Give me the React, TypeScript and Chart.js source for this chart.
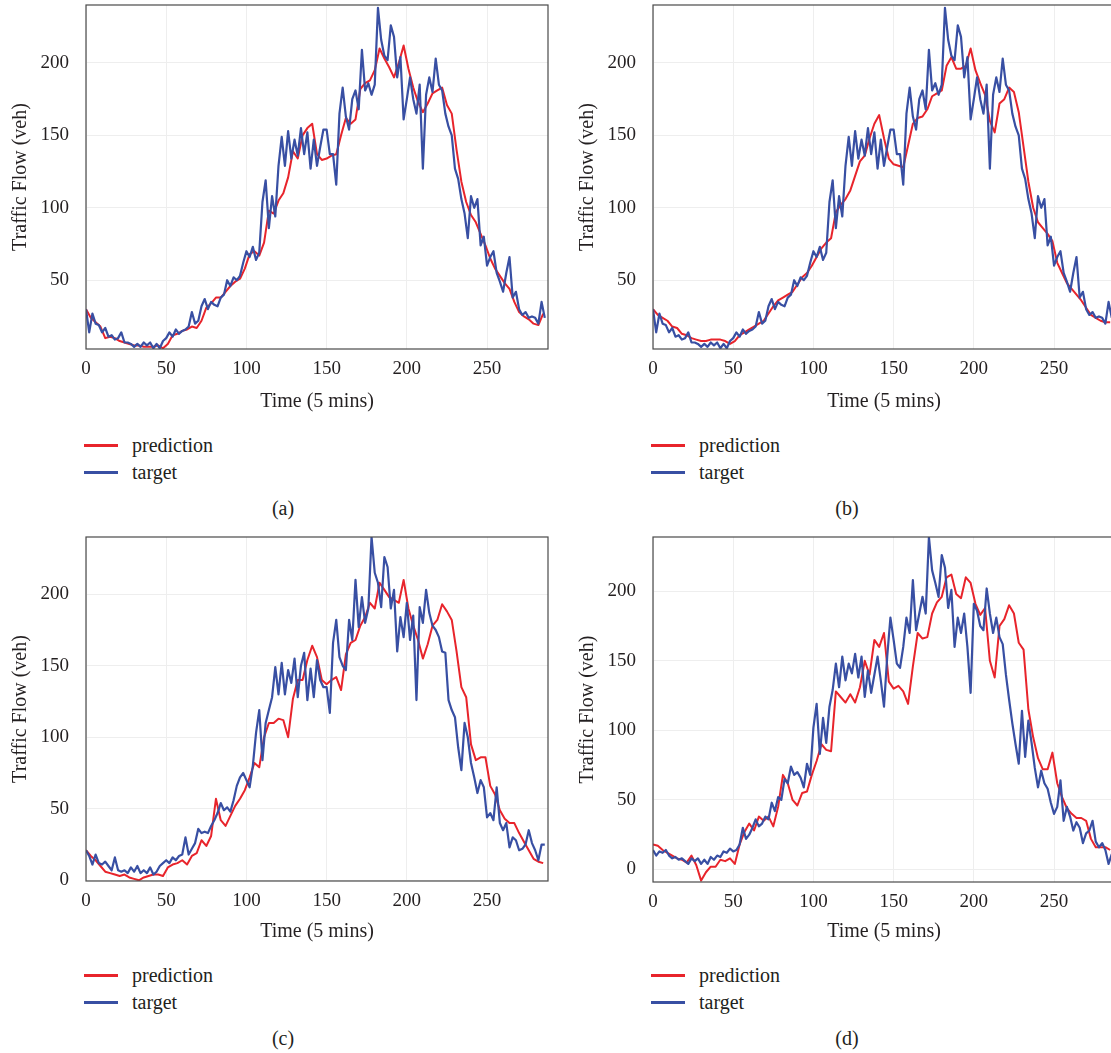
import React, { useEffect, useRef } from "react";
import { Chart, registerables } from "chart.js";

Chart.register(...registerables);

// ---------- data (time index in 5-minute steps) ----------
const TARGET_STEP = 2; // target sampled every 2 steps
const PRED_STEP = 3; // prediction sampled every 3 steps
const TIME_TICKS = [0, 50, 100, 150, 200, 250];
const FLOW_TICKS = [0, 50, 100, 150, 200];

// Target series of panels (a) and (b)
const TARGET_AB = [
  30, 14, 27, 20, 19, 14, 17, 11, 12, 9,
  10, 14, 7, 7, 6, 4, 6, 4, 7, 5,
  7, 3, 6, 3, 8, 10, 14, 11, 16, 13,
  15, 16, 18, 28, 20, 22, 32, 37, 30, 35,
  33, 32, 38, 40, 50, 46, 52, 50, 53, 62,
  70, 66, 73, 64, 69, 104, 119, 86, 108, 94,
  129, 149, 129, 153, 134, 147, 136, 155, 137, 152,
  127, 147, 129, 142, 154, 154, 137, 137, 116, 165,
  183, 163, 154, 175, 181, 168, 209, 181, 186, 178,
  185, 238, 216, 205, 202, 226, 218, 190, 204, 161,
  175, 190, 175, 165, 185, 127, 178, 190, 180, 203,
  185, 181, 165, 156, 150, 127, 120, 106, 96, 79,
  108, 100, 106, 74, 80, 60, 66, 70, 55, 49,
  42, 55, 66, 38, 42, 30, 26, 28, 24, 25,
  24, 20, 35, 24,
];

const PRED_A = [
  30, 24, 21, 18, 10, 11, 10, 8, 7, 6,
  5, 5, 4, 4, 4, 5, 3, 6, 12, 13,
  15, 16, 18, 17, 22, 31, 34, 38, 38, 42,
  46, 49, 51, 58, 68, 70, 67, 76, 98, 96,
  105, 110, 121, 139, 134, 150, 155, 158, 137, 133,
  134, 136, 137, 150, 162, 158, 161, 182, 186, 188,
  195, 210, 203, 197, 190, 200, 212, 196, 183, 173,
  166, 172, 179, 181, 183, 171, 165, 140, 118, 104,
  95, 90, 82, 74, 65, 58, 53, 48, 44, 35,
  28, 25, 23, 20, 19, 27,
];

const PRED_B = [
  30, 26, 24, 22, 18, 17, 13, 12, 10, 9,
  8, 8, 9, 9, 9, 8, 6, 8, 12, 14,
  16, 18, 20, 22, 27, 32, 36, 38, 40, 42,
  47, 52, 55, 60, 66, 72, 76, 79, 97, 102,
  106, 112, 122, 132, 136, 148, 158, 164, 148, 134,
  130, 129, 128, 143, 158, 162, 163, 168, 177, 179,
  181, 198, 204, 196, 196, 198, 210, 195, 186, 178,
  160, 152, 172, 175, 183, 180, 166, 142, 118, 100,
  90, 86, 82, 77, 62, 55, 48, 44, 40, 36,
  31, 26, 24, 22, 21, 21,
];

const TARGET_C = [
  21, 17, 11, 18, 12, 11, 13, 10, 7, 16,
  7, 6, 7, 5, 9, 6, 10, 5, 7, 5,
  9, 4, 6, 10, 12, 14, 12, 16, 14, 17,
  18, 30, 18, 22, 26, 36, 33, 34, 33, 38,
  42, 47, 54, 49, 51, 48, 56, 66, 72, 75,
  70, 65, 80, 103, 119, 84, 110, 119, 128, 149,
  130, 152, 130, 147, 138, 155, 128, 150, 159, 126,
  148, 128, 154, 140, 135, 135, 117, 166, 182, 156,
  150, 147, 182, 168, 210, 177, 198, 180, 190, 240,
  215, 208, 191, 226, 219, 190, 203, 160, 184, 170,
  194, 168, 185, 126, 191, 180, 203, 187, 178, 175,
  170, 160, 159, 126, 119, 114, 93, 77, 110, 100,
  82, 72, 61, 70, 65, 44, 47, 42, 65, 40,
  35, 40, 23, 30, 28, 21, 22, 25, 35, 26,
  21, 14, 25, 25,
];

const PRED_C = [
  21, 17, 14, 10, 6, 5, 4, 3, 4, 2,
  1, 0, 2, 3, 4, 4, 3, 9, 11, 12,
  14, 11, 17, 19, 28, 24, 31, 57, 42, 38,
  45, 52, 57, 63, 72, 82, 79, 100, 110, 110,
  113, 112, 100, 127, 140, 140, 154, 164, 156, 140,
  137, 140, 142, 133, 158, 166, 168, 178, 184, 194,
  190, 208, 203, 198, 196, 194, 210, 190, 178, 168,
  155, 165, 178, 182, 193, 188, 182, 160, 135, 128,
  95, 84, 86, 86, 66, 60, 49, 43, 40, 40,
  33, 27, 21, 15, 13, 12,
];

const TARGET_D = [
  14, 10, 13, 12, 14, 10, 8, 9, 7, 8,
  6, 4, 8, 6, 8, 4, 7, 4, 9, 7,
  10, 9, 13, 12, 15, 13, 14, 18, 30, 22,
  25, 30, 36, 31, 33, 38, 36, 48, 42, 52,
  50, 65, 62, 74, 68, 70, 66, 59, 76, 68,
  102, 119, 83, 109, 91, 117, 129, 148, 131, 153,
  136, 148, 141, 155, 138, 153, 124, 143, 127, 140,
  153, 136, 117, 153, 181, 165, 148, 145, 160, 181,
  170, 208, 172, 184, 196, 184, 239, 215, 206, 196,
  226, 217, 188, 201, 160, 181, 170, 184, 160, 127,
  191, 186, 175, 172, 202, 184, 170, 181, 167, 162,
  140, 122, 105, 90, 76, 114, 81, 107, 91, 73,
  59, 71, 62, 58, 48, 40, 45, 64, 35, 45,
  38, 28, 34, 30, 19, 26, 28, 35, 20, 16,
  19, 14, 4, 11,
];

const PRED_D = [
  18, 17, 14, 12, 10, 8, 7, 5, 10, 3,
  -8, -2, 2, 2, 7, 6, 8, 4, 18, 27,
  33, 28, 38, 35, 38, 31, 45, 68, 62, 50,
  46, 55, 56, 68, 78, 90, 86, 85, 128, 124,
  120, 126, 120, 131, 150, 140, 165, 160, 170, 135,
  130, 132, 128, 119, 146, 170, 166, 167, 184, 192,
  196, 210, 212, 198, 195, 210, 206, 191, 183, 188,
  150, 138, 175, 180, 190, 184, 163, 158, 115, 95,
  80, 72, 72, 84, 62, 52, 44, 40, 37, 37,
  35, 22, 16, 16, 16, 14,
];

const SERIES_LABELS = ["prediction", "target"];
const X_TITLE = "Time (5 mins)";
const Y_TITLE = "Traffic Flow (veh)";

// ---------- styling ----------
const RED = "#e8242b";
const BLUE = "#384fa3";
const TEXT = "#231f20";
const GRID = "#eeeeee";
const FONT = "'Liberation Serif', 'Times New Roman', serif";

const CANVAS_W = 560;
const CANVAS_H = 420;

type PanelProps = {
  left: number;
  top: number;
  plotLeft: number;
  plotRight: number;
  plotTop: number;
  plotBottom: number;
  yMin: number;
  yMax: number;
  target: number[];
  pred: number[];
  caption: string;
  captionX: number;
};

const toPoints = (vals: number[], step: number) =>
  vals.map((v, i) => ({ x: i * step, y: v }));

const frame = {
  id: "frameBox",
  afterDatasetsDraw(chart: any) {
    const { ctx, chartArea } = chart;
    ctx.save();
    ctx.strokeStyle = "#4a4a4a";
    ctx.lineWidth = 1.2;
    ctx.strokeRect(
      chartArea.left,
      chartArea.top,
      chartArea.right - chartArea.left,
      chartArea.bottom - chartArea.top
    );
    ctx.restore();
  },
};

function Panel(p: PanelProps) {
  const ref = useRef<HTMLCanvasElement>(null);
  useEffect(() => {
    const yW = p.plotLeft;
    const xH = CANVAS_H - p.plotBottom;
    const chart = new Chart(ref.current as HTMLCanvasElement, {
      type: "line",
      data: {
        datasets: [
          {
            label: SERIES_LABELS[1],
            data: toPoints(p.target, TARGET_STEP),
            borderColor: BLUE,
            borderWidth: 2.2,
            pointRadius: 0,
            tension: 0,
            borderJoinStyle: "round",
            order: 0,
          },
          {
            label: SERIES_LABELS[0],
            data: toPoints(p.pred, PRED_STEP),
            borderColor: RED,
            borderWidth: 2,
            pointRadius: 0,
            tension: 0,
            borderJoinStyle: "round",
            order: 1,
          },
        ],
      },
      options: {
        responsive: false,
        animation: false,
        layout: {
          padding: { top: p.plotTop, right: CANVAS_W - p.plotRight, left: 0, bottom: 0 },
        },
        plugins: { legend: { display: false }, tooltip: { enabled: false } },
        scales: {
          x: {
            type: "linear",
            min: 0,
            max: 288,
            afterBuildTicks: (s: any) => {
              s.ticks = TIME_TICKS.map((v) => ({ value: v }));
            },
            afterFit: (s: any) => {
              s.height = xH;
              s.paddingLeft = 0;
              s.paddingRight = 0;
            },
            ticks: {
              color: TEXT,
              font: { family: FONT, size: 19 },
              padding: 9,
              maxRotation: 0,
              autoSkip: false,
            },
            grid: { color: GRID, drawTicks: false },
            border: { display: false },
            title: {
              display: true,
              text: X_TITLE,
              color: TEXT,
              font: { family: FONT, size: 20 },
              padding: { top: 4, bottom: 6 },
            },
          },
          y: {
            type: "linear",
            min: p.yMin,
            max: p.yMax,
            afterBuildTicks: (s: any) => {
              s.ticks = FLOW_TICKS.filter((v) => v >= p.yMin && v <= p.yMax).map((v) => ({
                value: v,
              }));
            },
            afterFit: (s: any) => {
              s.width = yW;
              s.paddingTop = 0;
              s.paddingBottom = 0;
            },
            ticks: {
              color: TEXT,
              font: { family: FONT, size: 19 },
              padding: 17,
              autoSkip: false,
            },
            grid: { color: GRID, drawTicks: false },
            border: { display: false },
            title: {
              display: true,
              text: Y_TITLE,
              color: TEXT,
              font: { family: FONT, size: 20 },
              padding: { top: 9, bottom: 0 },
            },
          },
        },
      },
      plugins: [frame],
    } as any);
    return () => chart.destroy();
  }, []);

  const legendRow = (color: string, label: string, y: number) => (
    <div
      style={{
        position: "absolute",
        left: 84,
        top: y - 13,
        height: 26,
        display: "flex",
        alignItems: "center",
        fontFamily: FONT,
        fontSize: 20,
        color: TEXT,
        whiteSpace: "nowrap",
      }}
    >
      <span
        style={{
          display: "inline-block",
          width: 34,
          height: 3,
          background: color,
          marginRight: 14,
        }}
      />
      <span>{label}</span>
    </div>
  );

  return (
    <div style={{ position: "absolute", left: p.left, top: p.top, width: 566, height: 530 }}>
      <canvas
        ref={ref}
        width={CANVAS_W}
        height={CANVAS_H}
        style={{ position: "absolute", left: 0, top: 0, width: CANVAS_W, height: CANVAS_H }}
      />
      {legendRow(RED, SERIES_LABELS[0], 445)}
      {legendRow(BLUE, SERIES_LABELS[1], 472)}
      <div
        style={{
          position: "absolute",
          left: p.captionX - 40,
          width: 80,
          top: 497,
          textAlign: "center",
          fontFamily: FONT,
          fontSize: 20,
          color: TEXT,
        }}
      >
        {p.caption}
      </div>
    </div>
  );
}

export default function App() {
  return (
    <div
      style={{
        position: "absolute",
        left: 0,
        top: 0,
        width: 1111,
        height: 1053,
        overflow: "hidden",
        background: "#ffffff",
      }}
    >
      <Panel
        left={0}
        top={0}
        plotLeft={86}
        plotRight={548}
        plotTop={5}
        plotBottom={349}
        yMin={2.5}
        yMax={240}
        target={TARGET_AB}
        pred={PRED_A}
        caption="(a)"
        captionX={283}
      />
      <Panel
        left={567}
        top={0}
        plotLeft={86}
        plotRight={548}
        plotTop={5}
        plotBottom={349}
        yMin={2.5}
        yMax={240}
        target={TARGET_AB}
        pred={PRED_B}
        caption="(b)"
        captionX={280}
      />
      <Panel
        left={0}
        top={530}
        plotLeft={86}
        plotRight={548}
        plotTop={7}
        plotBottom={351}
        yMin={-0.5}
        yMax={240}
        target={TARGET_C}
        pred={PRED_C}
        caption="(c)"
        captionX={283}
      />
      <Panel
        left={567}
        top={530}
        plotLeft={86}
        plotRight={548}
        plotTop={7}
        plotBottom={352}
        yMin={-9}
        yMax={239}
        target={TARGET_D}
        pred={PRED_D}
        caption="(d)"
        captionX={280}
      />
    </div>
  );
}
